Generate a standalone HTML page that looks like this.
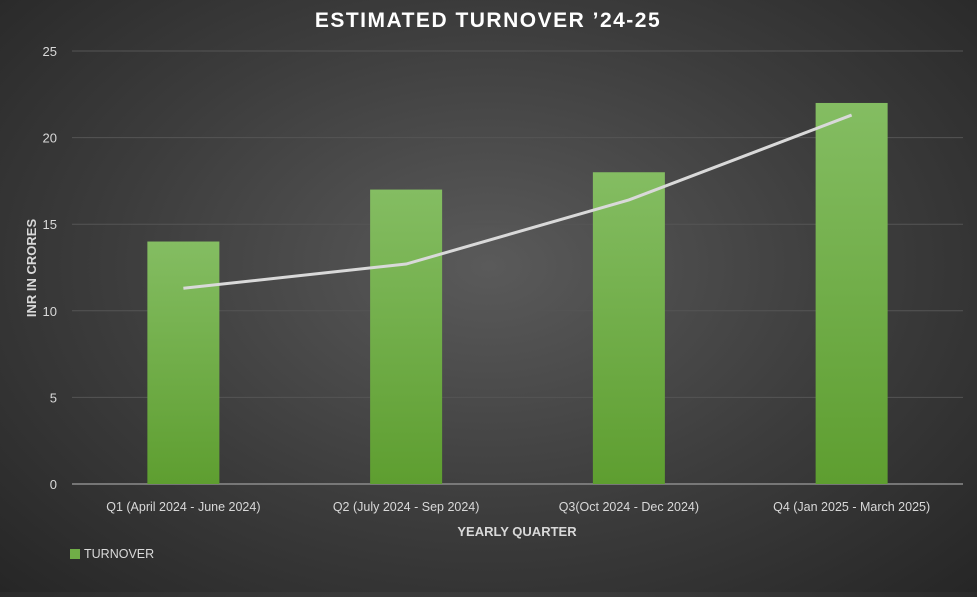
<!DOCTYPE html>
<html><head><meta charset="utf-8"><style>
html,body{margin:0;padding:0;}
body{width:977px;height:592px;overflow:hidden;background:radial-gradient(ellipse at 50% 45%,#5a5a5a 0%,#3c3c3c 55%,#262626 100%);font-family:"Liberation Sans",sans-serif;}
svg text{font-family:"Liberation Sans",sans-serif;}
</style></head><body>
<svg id="chart" width="977" height="592">
<text x="488" y="27" text-anchor="middle" fill="#fff" font-size="21" font-weight="bold" letter-spacing="1.5">ESTIMATED TURNOVER ’24-25</text>
<g id="grid"></g><g id="bars"></g><g id="line"></g><g id="labels"></g>
<text x="36" y="268" transform="rotate(-90 36 268)" text-anchor="middle" fill="#d9d9d9" font-size="13" font-weight="bold">INR IN CRORES</text>
<text x="517" y="536" text-anchor="middle" fill="#d9d9d9" font-size="13" font-weight="bold">YEARLY QUARTER</text>
<g>
<rect x="70" y="549" width="10" height="10" fill="#70ad47"/>
<text x="84" y="558" fill="#d9d9d9" font-size="12.5">TURNOVER</text>
</g>
<defs><linearGradient id="bg" x1="0" y1="0" x2="0" y2="1"><stop offset="0" stop-color="#84bd62"/><stop offset="1" stop-color="#5e9e30"/></linearGradient></defs>
</svg>
<script>
const categories=["Q1 (April 2024 - June 2024)","Q2 (July 2024 - Sep 2024)","Q3(Oct 2024 - Dec 2024)","Q4 (Jan 2025 - March 2025)"];
const turnover=[14,17,18,22];
const trend=[11.3,12.7,16.4,21.3];
const yTicks=[0,5,10,15,20,25];
const NS="http://www.w3.org/2000/svg";
const L=72,R=963,T=51,B=484,yMax=25;
const y=v=>B-(v/yMax)*(B-T);
const band=(R-L)/categories.length;
const xc=i=>L+band*(i+0.5);
function mk(tag,attrs,parent){const e=document.createElementNS(NS,tag);for(const k in attrs)e.setAttribute(k,attrs[k]);parent.appendChild(e);return e;}
const g=document.getElementById('grid'),bg=document.getElementById('bars'),lg=document.getElementById('line'),lb=document.getElementById('labels');
yTicks.forEach(t=>{
 const ln=mk('line',{x1:L,x2:R,y1:y(t),y2:y(t),stroke:t===0?'#8c8c8c':'#555','stroke-width':t===0?1.5:1},g);
 
 
 const tx=mk('text',{x:57,y:y(t)+5,'text-anchor':'end',fill:'#d9d9d9','font-size':13},lb);
 tx.textContent=t;
 
 
});
turnover.forEach((v,i)=>{
 const w=72;
 const r=mk('rect',{x:xc(i)-w/2,y:y(v),width:w,height:B-y(v),fill:'url(#bg)'},bg);
 
 
 const tx=mk('text',{x:xc(i),y:511,'text-anchor':'middle',fill:'#d9d9d9','font-size':12.5},lb);
 tx.textContent=categories[i];
 
 
});
const pl=mk('polyline',{points:trend.map((v,i)=>xc(i)+','+y(v)).join(' '),fill:'none',stroke:'#d9d9d9','stroke-width':3},lg);


</script>
</body></html>
